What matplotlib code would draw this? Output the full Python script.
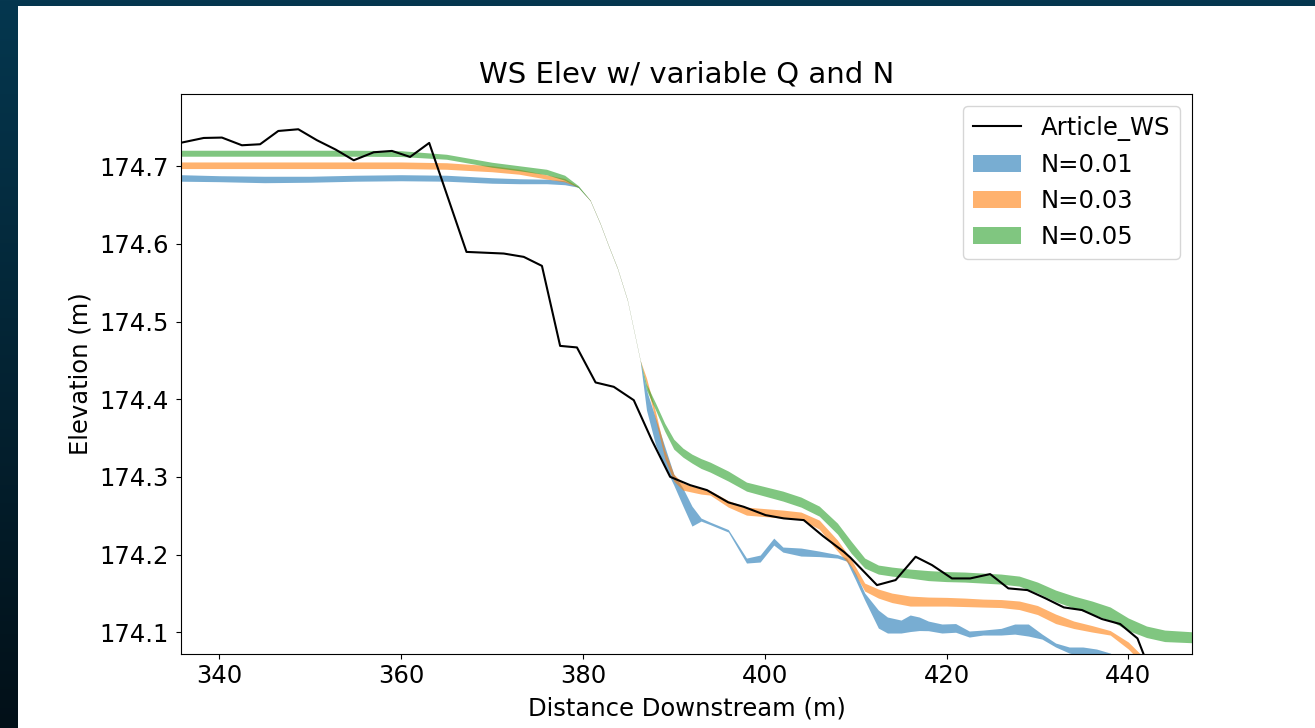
import numpy as np
import matplotlib
matplotlib.use("Agg")
import matplotlib.pyplot as plt
from matplotlib.patches import Rectangle

# Article water surface (black line)
article_x = [335.9, 338.3, 340.3, 342.5, 344.5, 346.5, 348.7, 350.75, 352.8, 354.8,
             357.0, 359.0, 361.0, 363.1, 367.2, 371.3, 373.5, 375.5, 377.5, 379.35,
             381.4, 383.4, 385.6, 387.6, 389.6, 391.8, 393.65, 396.0, 397.7, 400.1,
             402.1, 404.3, 406.4, 408.7, 409.4, 412.35, 414.4, 416.6, 418.4, 420.6,
             422.6, 424.8, 426.8, 428.9, 430.9, 432.9, 434.9, 437.1, 439.1, 441.0,
             442.4]
article_ws = [174.7305, 174.7364, 174.7369, 174.7270, 174.7283, 174.7454, 174.7476, 174.7335,
              174.7215, 174.7077, 174.7180, 174.7197, 174.7120, 174.7300, 174.5897, 174.5876,
              174.5833, 174.5717, 174.4687, 174.4667, 174.4216, 174.4160, 174.3988, 174.3470,
              174.3001, 174.2894, 174.2830, 174.2672, 174.2615, 174.2508, 174.2466, 174.2444,
              174.2240, 174.2036, 174.1964, 174.1607, 174.1672, 174.1972, 174.1865, 174.1693,
              174.1693, 174.1749, 174.1565, 174.1543, 174.1436, 174.1320, 174.1286, 174.1170,
              174.1106, 174.0921, 174.0500]

# N=0.01 band (min / max over the flows)
n01_x = [335.8, 340, 345, 350, 355, 360, 365, 370, 373, 376, 378, 379.5,
         380.8, 381.9, 382.8, 383.8, 384.9, 385.6, 386.3,
         387, 388, 389, 390, 391, 392, 393, 394, 396, 398, 399.5, 401, 402, 404,
         406, 408, 409, 410, 411, 412.5, 413.5, 415, 416, 417, 418, 419.5, 421,
         422.5, 424, 426, 427.5, 429, 430.5, 432, 433.5, 435, 436.5, 438, 440,
         444, 447]
n01_lo = [174.6807, 174.6801, 174.6788, 174.6794, 174.6807, 174.6813, 174.6807, 174.6781,
          174.6775, 174.6775, 174.6762, 174.6730,
          174.6558, 174.6259, 174.5979, 174.5683, 174.5271, 174.4885, 174.4499,
          174.3860, 174.3410, 174.3139, 174.2894, 174.2627, 174.2367, 174.2431, 174.2386,
          174.2290, 174.1891, 174.1904, 174.2122, 174.2032, 174.1981, 174.1974, 174.1955,
          174.1916, 174.1672, 174.1414, 174.1054, 174.0990, 174.0990, 174.1009, 174.1022,
          174.1020, 174.0990, 174.1000, 174.0938, 174.0964, 174.0964, 174.0976, 174.0951,
          174.0912, 174.0810, 174.0732, 174.0694, 174.0642, 174.0580, 174.0450, 174.0150,
          174.0050]
n01_hi = [174.6891, 174.6878, 174.6871, 174.6871, 174.6884, 174.6891, 174.6884, 174.6852,
          174.6839, 174.6833, 174.6813, 174.6738,
          174.6564, 174.6265, 174.5985, 174.5689, 174.5277, 174.4891, 174.4505,
          174.4117, 174.3757, 174.3396, 174.3036, 174.2856, 174.2624, 174.2470, 174.2418,
          174.2322, 174.1955, 174.1994, 174.2212, 174.2097, 174.2084, 174.2045, 174.2000,
          174.1955, 174.1762, 174.1505, 174.1286, 174.1196, 174.1157, 174.1222, 174.1196,
          174.1144, 174.1106, 174.1112, 174.1016, 174.1028, 174.1050, 174.1106, 174.1106,
          174.0977, 174.0861, 174.0810, 174.0810, 174.0784, 174.0732, 174.0600, 174.0300,
          174.0200]

# N=0.03 and N=0.05 bands share these stations
nb_x = [335.8, 340, 345, 350, 355, 360, 365, 370, 373, 376, 378, 379.5,
        380.8, 381.9, 382.8, 383.8, 384.9, 385.6, 386.3,
        387, 388, 389, 390, 391, 392, 393, 394, 396, 398, 400, 402, 404, 406,
        408, 409.5, 411, 412.5, 414, 416, 418, 420, 422, 424, 426, 428, 430,
        432, 434, 436, 438, 440, 442, 444, 447]
n03_lo = [174.6970, 174.6970, 174.6970, 174.6970, 174.6970, 174.6970, 174.6961, 174.6929,
          174.6897, 174.6835, 174.6798, 174.6730,
          174.6558, 174.6259, 174.5979, 174.5683, 174.5271, 174.4885, 174.4499,
          174.4195, 174.3731, 174.3242, 174.2946, 174.2830, 174.2804, 174.2779, 174.2766,
          174.2611, 174.2508, 174.2489, 174.2470, 174.2450, 174.2328, 174.2045, 174.1846,
          174.1530, 174.1440, 174.1382, 174.1337, 174.1337, 174.1337, 174.1331, 174.1324,
          174.1318, 174.1292, 174.1228, 174.1112, 174.1048, 174.1003, 174.0964, 174.0784,
          174.0539, 174.0250, 174.0000]
n03_hi = [174.7055, 174.7055, 174.7055, 174.7055, 174.7055, 174.7055, 174.7045, 174.7006,
          174.6961, 174.6890, 174.6842, 174.6738,
          174.6564, 174.6265, 174.5985, 174.5689, 174.5277, 174.4891, 174.4505,
          174.4272, 174.3834, 174.3345, 174.3036, 174.2920, 174.2882, 174.2856, 174.2824,
          174.2695, 174.2611, 174.2592, 174.2573, 174.2547, 174.2444, 174.2187, 174.1942,
          174.1633, 174.1556, 174.1504, 174.1466, 174.1453, 174.1449, 174.1440, 174.1427,
          174.1421, 174.1402, 174.1344, 174.1234, 174.1144, 174.1086, 174.1022, 174.0874,
          174.0642, 174.0380, 174.0100]
n05_lo = [174.7129, 174.7129, 174.7129, 174.7129, 174.7129, 174.7125, 174.7090, 174.6987,
          174.6942, 174.6891, 174.6820, 174.6725,
          174.6558, 174.6259, 174.5979, 174.5683, 174.5271, 174.4885, 174.4499,
          174.4117, 174.3860, 174.3589, 174.3358, 174.3255, 174.3178, 174.3109, 174.3062,
          174.2946, 174.2817, 174.2753, 174.2689, 174.2611, 174.2495, 174.2264, 174.2019,
          174.1826, 174.1749, 174.1723, 174.1697, 174.1665, 174.1652, 174.1646, 174.1633,
          174.1620, 174.1594, 174.1505, 174.1395, 174.1311, 174.1235, 174.1151, 174.1022,
          174.0932, 174.0880, 174.0865]
n05_hi = [174.7206, 174.7206, 174.7206, 174.7206, 174.7206, 174.7200, 174.7154, 174.7051,
          174.7006, 174.6961, 174.6884, 174.6750,
          174.6564, 174.6265, 174.5985, 174.5689, 174.5277, 174.4891, 174.4505,
          174.4194, 174.3950, 174.3692, 174.3486, 174.3371, 174.3293, 174.3236, 174.3190,
          174.3075, 174.2933, 174.2875, 174.2817, 174.2740, 174.2624, 174.2405, 174.2174,
          174.1955, 174.1865, 174.1839, 174.1813, 174.1794, 174.1781, 174.1775, 174.1762,
          174.1749, 174.1723, 174.1646, 174.1543, 174.1466, 174.1402, 174.1325, 174.1183,
          174.1080, 174.1028, 174.1006]

labels = ['N=0.01', 'N=0.03', 'N=0.05']
colors = ['tab:blue', 'tab:orange', 'tab:green']

plt.rcParams['font.size'] = 17.5

fig = plt.figure(figsize=(13.15, 7.28), dpi=100)

# dark backdrop of the screenshot + white canvas
bg = fig.add_axes([0, 0, 1, 1], zorder=-10)
grad = np.linspace(0, 1, 256).reshape(-1, 1)
cmap = matplotlib.colors.LinearSegmentedColormap.from_list('bg', ['#05374f', '#021018'])
bg.imshow(grad, aspect='auto', cmap=cmap, extent=[0, 1, 0, 1], origin='upper')
bg.set_axis_off()
fig.patches.append(Rectangle((18 / 1315, 0), 1, 1 - 6 / 728, transform=fig.transFigure,
                             facecolor='white', edgecolor='none', zorder=-5))

ax = fig.add_axes([181 / 1315, 1 - 654 / 728, (1192 - 181) / 1315, (654 - 94) / 728])

ax.plot(article_x, article_ws, color='black', lw=1.5, label='Article_WS')
ax.fill_between(n01_x, n01_lo, n01_hi, color=colors[0], alpha=0.6, lw=0, label=labels[0])
ax.fill_between(nb_x, n03_lo, n03_hi, color=colors[1], alpha=0.6, lw=0, label=labels[1])
ax.fill_between(nb_x, n05_lo, n05_hi, color=colors[2], alpha=0.6, lw=0, label=labels[2])

ax.set_xlim(335.8, 447.0)
ax.set_ylim(174.072, 174.793)
ax.set_xticks([340, 360, 380, 400, 420, 440])
ax.set_yticks([174.1, 174.2, 174.3, 174.4, 174.5, 174.6, 174.7])
ax.tick_params(axis='y', pad=5.5)
ax.set_title('WS Elev w/ variable Q and N', pad=8)
ax.set_xlabel('Distance Downstream (m)', labelpad=6)
ax.set_ylabel('Elevation (m)', labelpad=5)
ax.legend(loc='upper right')

fig.savefig('out.png', dpi=100)
